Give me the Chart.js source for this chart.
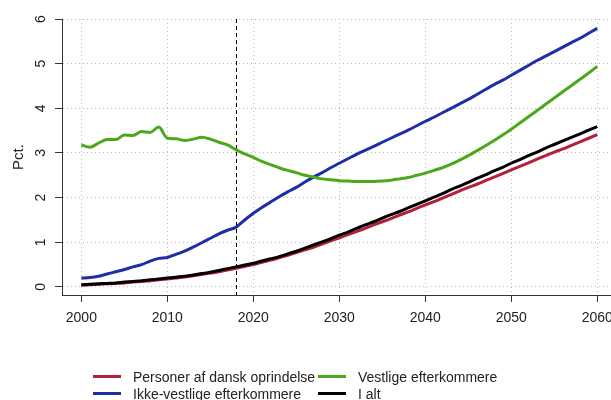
<!DOCTYPE html>
<html lang="da">
<head>
<meta charset="UTF-8">
<title>Pct. efter herkomst</title>
<style>
    body {
        margin: 0;
        background: #fff;
        font-family: "Liberation Sans", Arial, sans-serif;
    }
    .wrap {
        position: relative;
        width: 611px;
        height: 400px;
        overflow: hidden;
    }
    #legend {
        position: absolute;
        left: 93px;
        top: 368px;
        display: grid;
        grid-auto-flow: column;
        grid-template-rows: 17px 17px;
        grid-template-columns: 225px auto;
        font-size: 14px;
        color: #222;
    }
    #legend div {
        display: flex;
        align-items: center;
        white-space: nowrap;
    }
    #legend span.sw {
        display: inline-block;
        width: 28px;
        height: 3px;
        margin-right: 12px;
    }
</style>
</head>
<body>
<div class="wrap">
    <canvas id="chart" width="611" height="400"></canvas>
    <div id="legend"></div>
</div>

<script src="https://cdn.jsdelivr.net/npm/chart.js"></script>
<script>
// years 2000-2060
const years = Array.from({length: 61}, (_, i) => 2000 + i);
const xTicks = [2000, 2010, 2020, 2030, 2040, 2050, 2060];
const yTicks = [0, 1, 2, 3, 4, 5, 6];
const forecastStart = 2018;

const labels = ['Personer af dansk oprindelse', 'Ikke-vestlige efterkommere', 'Vestlige efterkommere', 'I alt'];
const colors = ['#b2203a', '#1f2ea6', '#4ba81b', '#000000'];

const dansk = [
    0.04, 0.05, 0.06, 0.07, 0.08, 0.09, 0.11, 0.12, 0.14, 0.16,
    0.18, 0.20, 0.22, 0.25, 0.28, 0.31, 0.34, 0.38, 0.42, 0.46,
    0.50, 0.55, 0.60, 0.65, 0.71, 0.77, 0.83, 0.89, 0.96, 1.03,
    1.10, 1.17, 1.24, 1.31, 1.39, 1.46, 1.53, 1.61, 1.68, 1.76,
    1.84, 1.91, 1.99, 2.07, 2.15, 2.23, 2.30, 2.38, 2.46, 2.54,
    2.62, 2.70, 2.78, 2.86, 2.94, 3.02, 3.09, 3.17, 3.25, 3.33,
    3.41
];
const ikkeVestlige = [
    0.20, 0.21, 0.24, 0.29, 0.34, 0.39, 0.45, 0.50, 0.58, 0.64,
    0.66, 0.73, 0.80, 0.89, 0.99, 1.09, 1.19, 1.27, 1.34, 1.50,
    1.65, 1.78, 1.90, 2.02, 2.13, 2.23, 2.35, 2.46, 2.56, 2.67,
    2.77, 2.87, 2.97, 3.06, 3.15, 3.24, 3.33, 3.42, 3.51, 3.61,
    3.71, 3.80, 3.90, 4.00, 4.10, 4.20, 4.31, 4.42, 4.53, 4.63,
    4.74, 4.85, 4.96, 5.07, 5.17, 5.27, 5.37, 5.47, 5.57, 5.68,
    5.79
];
const vestlige = [
    3.18, 3.13, 3.22, 3.30, 3.30, 3.40, 3.39, 3.48, 3.46, 3.58,
    3.33, 3.32, 3.28, 3.31, 3.35, 3.31, 3.24, 3.18, 3.07, 2.98,
    2.90, 2.81, 2.74, 2.67, 2.61, 2.56, 2.50, 2.46, 2.42, 2.40,
    2.38, 2.37, 2.36, 2.36, 2.36, 2.37, 2.39, 2.42, 2.45, 2.50,
    2.55, 2.61, 2.67, 2.75, 2.84, 2.94, 3.05, 3.16, 3.28, 3.40,
    3.53, 3.67, 3.81, 3.95, 4.09, 4.23, 4.37, 4.51, 4.65, 4.79,
    4.94
];
const iAlt = [
    0.05, 0.06, 0.07, 0.08, 0.09, 0.11, 0.12, 0.14, 0.16, 0.18,
    0.20, 0.22, 0.24, 0.27, 0.30, 0.33, 0.37, 0.41, 0.45, 0.49,
    0.53, 0.58, 0.63, 0.68, 0.74, 0.80, 0.87, 0.94, 1.01, 1.08,
    1.16, 1.23, 1.31, 1.39, 1.46, 1.54, 1.62, 1.69, 1.77, 1.85,
    1.93, 2.01, 2.09, 2.18, 2.26, 2.34, 2.43, 2.51, 2.60, 2.68,
    2.77, 2.85, 2.94, 3.02, 3.11, 3.19, 3.27, 3.35, 3.43, 3.51,
    3.59
];

const series = [dansk, ikkeVestlige, vestlige, iAlt];
const drawOrder = [4, 3, 2, 1]; // black on top

const FONT = '"Liberation Sans", Arial, sans-serif';

// dashed line at the start of the projection + rotated y tick labels
const extras = {
    id: 'extras',
    beforeDatasetsDraw(chart) {
        const {ctx, chartArea, scales} = chart;
        const x = Math.round(scales.x.getPixelForValue(forecastStart)) + 0.5;
        ctx.save();
        ctx.strokeStyle = '#000';
        ctx.lineWidth = 1;
        ctx.setLineDash([4, 3]);
        ctx.beginPath();
        ctx.moveTo(x, chartArea.top);
        ctx.lineTo(x, chartArea.bottom);
        ctx.stroke();
        ctx.restore();
    },
    afterDraw(chart) {
        const {ctx, scales} = chart;
        ctx.save();
        ctx.fillStyle = '#222';
        ctx.font = '14px ' + FONT;
        ctx.textAlign = 'center';
        ctx.textBaseline = 'middle';
        scales.y.ticks.forEach(t => {
            ctx.save();
            ctx.translate(41, scales.y.getPixelForValue(t.value));
            ctx.rotate(-Math.PI / 2);
            ctx.fillText(String(t.value), 0, 0);
            ctx.restore();
        });
        ctx.restore();
    }
};

const chart = new Chart(document.getElementById('chart'), {
    type: 'line',
    data: {
        datasets: series.map((s, i) => ({
            label: labels[i],
            data: years.map((yr, j) => ({x: yr, y: s[j]})),
            borderColor: colors[i],
            backgroundColor: colors[i],
            borderWidth: 3,
            pointRadius: 0,
            cubicInterpolationMode: 'monotone',
            order: drawOrder[i]
        }))
    },
    options: {
        responsive: false,
        animation: false,
        layout: {
            autoPadding: false,
            padding: {top: 19, left: 0, right: 0, bottom: 0}
        },
        plugins: {
            legend: {display: false},
            tooltip: {enabled: false}
        },
        scales: {
            x: {
                type: 'linear',
                min: 1997.75,
                max: 2061.6,
                afterBuildTicks: s => { s.ticks = xTicks.map(v => ({value: v})); },
                afterFit: s => {
                    s.height = 105;
                    s.paddingLeft = 0;
                    s.paddingRight = 0;
                },
                grid: {
                    color: '#bdbdbd',
                    lineWidth: 1,
                    tickLength: 7,
                    tickColor: '#333',
                    tickBorderDash: []
                },
                border: {display: true, color: '#333', width: 1, dash: [1, 3]},
                ticks: {
                    color: '#222',
                    font: {family: FONT, size: 14},
                    padding: 8,
                    maxRotation: 0,
                    callback: v => String(v)
                }
            },
            y: {
                min: -0.18,
                max: 6,
                afterBuildTicks: s => { s.ticks = yTicks.map(v => ({value: v})); },
                afterFit: s => { s.width = 62; },
                grid: {
                    color: '#bdbdbd',
                    lineWidth: 1,
                    tickLength: 7,
                    tickColor: '#333',
                    tickBorderDash: []
                },
                border: {display: true, color: '#333', width: 1, dash: [1, 3]},
                ticks: {display: false},
                title: {
                    display: true,
                    text: 'Pct.',
                    color: '#222',
                    font: {family: FONT, size: 15},
                    padding: {top: 10, bottom: 0}
                }
            }
        }
    },
    plugins: [extras]
});

// legend built from the datasets, two columns like the original
const legendEl = document.getElementById('legend');
chart.data.datasets.forEach(ds => {
    const item = document.createElement('div');
    const sw = document.createElement('span');
    sw.className = 'sw';
    sw.style.background = ds.borderColor;
    item.appendChild(sw);
    item.appendChild(document.createTextNode(ds.label));
    legendEl.appendChild(item);
});
</script>
</body>
</html>
